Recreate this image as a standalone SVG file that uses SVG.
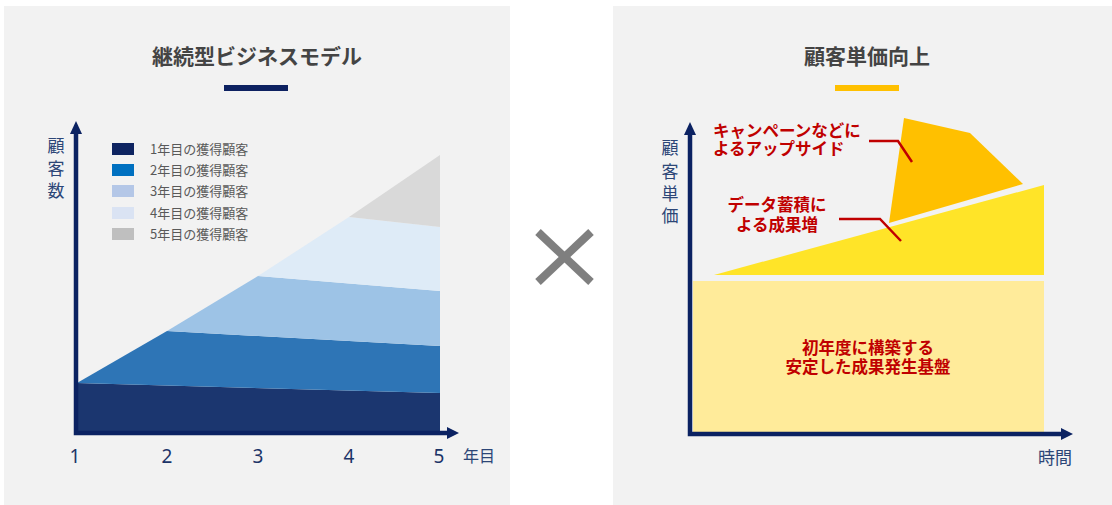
<svg xmlns="http://www.w3.org/2000/svg" width="1112" height="505" viewBox="0 0 1112 505">
<style>
.title{font-family:"Noto Sans CJK JP","Noto Sans",sans-serif;font-size:21px;font-weight:bold;fill:#444444;text-anchor:middle}
.leg{font-family:"Noto Sans CJK JP","Noto Sans",sans-serif;font-size:13px;fill:#595959}
.ax{font-family:"Noto Sans CJK JP","Noto Sans",sans-serif;font-size:17px;fill:#2c4677;text-anchor:middle}
.num{font-family:"Noto Sans","Liberation Sans",sans-serif;font-size:19px;fill:#1c3468;text-anchor:middle}
.red{font-family:"Noto Sans CJK JP","Noto Sans",sans-serif;font-size:16.5px;font-weight:bold;fill:#c00000}
.axis{stroke:#0b2262;stroke-width:4.5;fill:none}
.lead{stroke:#c00000;stroke-width:2.5;fill:none}
.head{fill:#0b2262}
</style>
<rect width="1112" height="505" fill="#ffffff"/>
<g id="left-panel">
<rect x="4" y="6" width="506" height="499" fill="#f2f2f2"/>
<text class="title" x="257" y="64">継続型ビジネスモデル</text>
<rect x="224" y="85" width="64" height="6" fill="#0d2161"/>
</g>
<g id="layers">
<polygon id="layer1" points="77,383 440,393 440,432 77,432" fill="#1b366f"/>
<polygon id="layer2" points="77,383 167,331 440,346 440,393" fill="#2e75b6"/>
<polygon id="layer3" points="167,331 258,276 440,291 440,346" fill="#9dc3e6"/>
<polygon id="layer4" points="258,276 349,217 440,227 440,291" fill="#deebf7"/>
<polygon id="layer5" points="349,217 440,155 440,227" fill="#d9d9d9"/>
</g>
<g id="legend">
<rect x="112" y="143" width="22" height="12" fill="#0e2461"/>
<text class="leg" x="150" y="154">1年目の獲得顧客</text>
<rect x="112" y="164" width="22" height="12" fill="#0070c0"/>
<text class="leg" x="150" y="175">2年目の獲得顧客</text>
<rect x="112" y="185" width="22" height="12" fill="#b4c7e7"/>
<text class="leg" x="150" y="196">3年目の獲得顧客</text>
<rect x="112" y="207" width="22" height="12" fill="#dae3f3"/>
<text class="leg" x="150" y="218">4年目の獲得顧客</text>
<rect x="112" y="228" width="22" height="12" fill="#bfbfbf"/>
<text class="leg" x="150" y="239">5年目の獲得顧客</text>
</g>
<g id="left-axes">
<polyline class="axis" points="76,132 76,433 449,433"/>
<polygon class="head" points="70,134 82,134 76,121"/>
<polygon class="head" points="447,427 447,439 459,433"/>
<text class="ax" x="56" y="152">顧</text>
<text class="ax" x="56" y="175">客</text>
<text class="ax" x="56" y="197">数</text>
<text class="num" x="75" y="463">1</text>
<text class="num" x="167" y="463">2</text>
<text class="num" x="258" y="463">3</text>
<text class="num" x="349" y="463">4</text>
<text class="num" x="439" y="463">5</text>
<text class="ax" x="479" y="462" style="font-size:16px">年目</text>
</g>
<g id="times">
<line x1="538" y1="232" x2="591" y2="282" stroke="#7f7f7f" stroke-width="8"/>
<line x1="591" y1="232" x2="538" y2="282" stroke="#7f7f7f" stroke-width="8"/>
</g>
<g id="right-panel">
<rect x="613" y="6" width="499" height="499" fill="#f2f2f2"/>
<text class="title" x="867" y="64">顧客単価向上</text>
<rect x="835" y="85" width="64" height="6" fill="#ffc000"/>
</g>
<g id="base">
<rect x="693" y="281" width="351" height="152" fill="#ffeb9a"/>
<text class="red" text-anchor="middle"><tspan x="868" y="354">初年度に構築する</tspan><tspan x="868" y="373">安定した成果発生基盤</tspan></text>
</g>
<g id="data">
<polygon points="714,275 1044,185 1044,275" fill="#ffe428"/>
</g>
<g id="campaign">
<polygon points="904,118 970,133 1023,184 889,223" fill="#ffc000"/>
</g>
<g id="connectors">
<polyline class="lead" points="869,141 898,141 912,162"/>
<polyline class="lead" points="839,219 880,219 901,241"/>
</g>
<g id="labels">
<text class="red"><tspan x="713" y="137">キャンペーンなどに</tspan><tspan x="713" y="155">よるアップサイド</tspan></text>
<text class="red" text-anchor="middle"><tspan x="777" y="211">データ蓄積に</tspan><tspan x="777" y="231">よる成果増</tspan></text>
</g>
<g id="right-axes">
<polyline class="axis" points="690,134 690,434 1063,434"/>
<polygon class="head" points="684,135 696,135 690,122"/>
<polygon class="head" points="1061,428 1061,440 1073,434"/>
<text class="ax" x="670" y="154">顧</text>
<text class="ax" x="670" y="178">客</text>
<text class="ax" x="670" y="200">単</text>
<text class="ax" x="670" y="222">価</text>
<text class="ax" x="1055" y="464">時間</text>
</g>
</svg>
